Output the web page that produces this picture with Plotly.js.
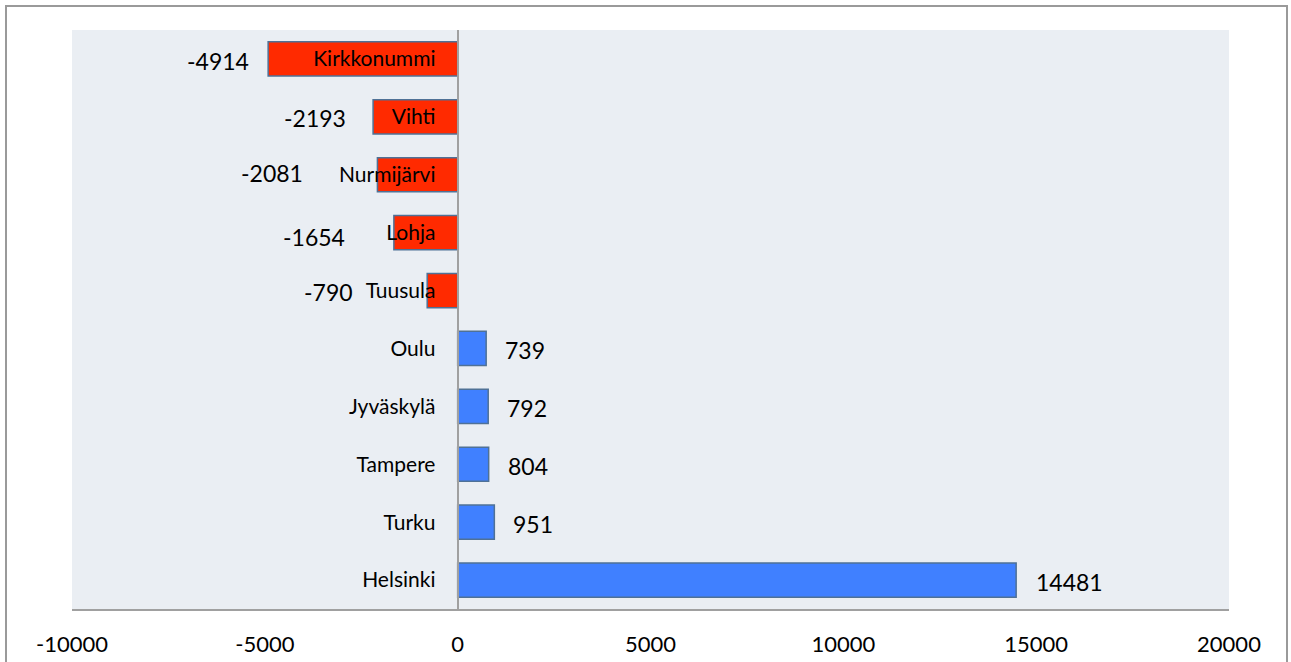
<!DOCTYPE html>
<html>
<head>
<meta charset="utf-8">
<script src="https://cdn.plot.ly/plotly-3.0.1.min.js"></script>
<style>
  html, body { margin: 0; padding: 0; background: #fff; overflow: hidden; }
  #frame { position: absolute; left: 5px; top: 5px; width: 1283px; height: 700px; border: 2px solid #9a9a9a; border-bottom: none; box-sizing: border-box; }
  #chart { position: absolute; left: 0; top: 0; width: 1291px; height: 662px; }
</style>
</head>
<body>
<div id="frame"></div>
<div id="chart"></div>
<script>
const municipalities = ["Kirkkonummi", "Vihti", "Nurmijärvi", "Lohja", "Tuusula", "Oulu", "Jyväskylä", "Tampere", "Turku", "Helsinki"];
const netMigration = [-4914, -2193, -2081, -1654, -790, 739, 792, 804, 951, 14481];
const xTicks = [-10000, -5000, 0, 5000, 10000, 15000, 20000];

// label placement tweaks (pixels), as in the original chart
const labelGapPx = [17, 25, 72, 47, 72, 17, 17, 17, 17, 18];
const labelRisePx = [-2, -1, 2, -4, -1, -2, -2, -2, -2, -2];

const RED = "#FF2A00", BLUE = "#4080FF";

const trace = {
  type: "bar",
  orientation: "h",
  y: municipalities,
  x: netMigration,
  marker: {
    color: netMigration.map(v => v < 0 ? RED : BLUE),
    line: { color: "#4F7196", width: 1.5 }
  },
  hoverinfo: "x+y"
};

const annotations = netMigration.map((v, i) => ({
  x: v, y: municipalities[i], xref: "x", yref: "y",
  text: String(v), showarrow: false,
  xanchor: v < 0 ? "right" : "left",
  xshift: v < 0 ? -labelGapPx[i] : labelGapPx[i],
  yshift: labelRisePx[i],
  font: { family: "Lato, sans-serif", size: 23, color: "#000" }
}));

const layout = {
  width: 1291, height: 662,
  margin: { l: 72, r: 62, t: 30, b: 53 },
  paper_bgcolor: "rgba(0,0,0,0)",
  plot_bgcolor: "#EAEEF3",
  showlegend: false,
  bargap: 0.41,
  font: { family: "Lato, sans-serif", color: "#000" },
  xaxis: {
    range: [-10000, 20000],
    tickvals: xTicks,
    ticktext: xTicks.map(String),
    showgrid: false, zeroline: false,
    showline: true, linecolor: "#A0A0A0", linewidth: 2,
    ticks: "", ticklabelstandoff: 15,
    tickfont: { family: "Lato, sans-serif", size: 22, color: "#000" }
  },
  yaxis: {
    type: "category",
    autorange: "reversed",
    anchor: "free", position: 1/3,
    showgrid: false, zeroline: false,
    showline: true, linecolor: "#A0A0A0", linewidth: 2,
    ticks: "", ticklabelstandoff: 17,
    tickfont: { family: "Lato, sans-serif", size: 21, color: "#000" }
  },
  annotations: annotations
};

Plotly.newPlot("chart", [trace], layout, { displayModeBar: false, staticPlot: true });
</script>
</body>
</html>
